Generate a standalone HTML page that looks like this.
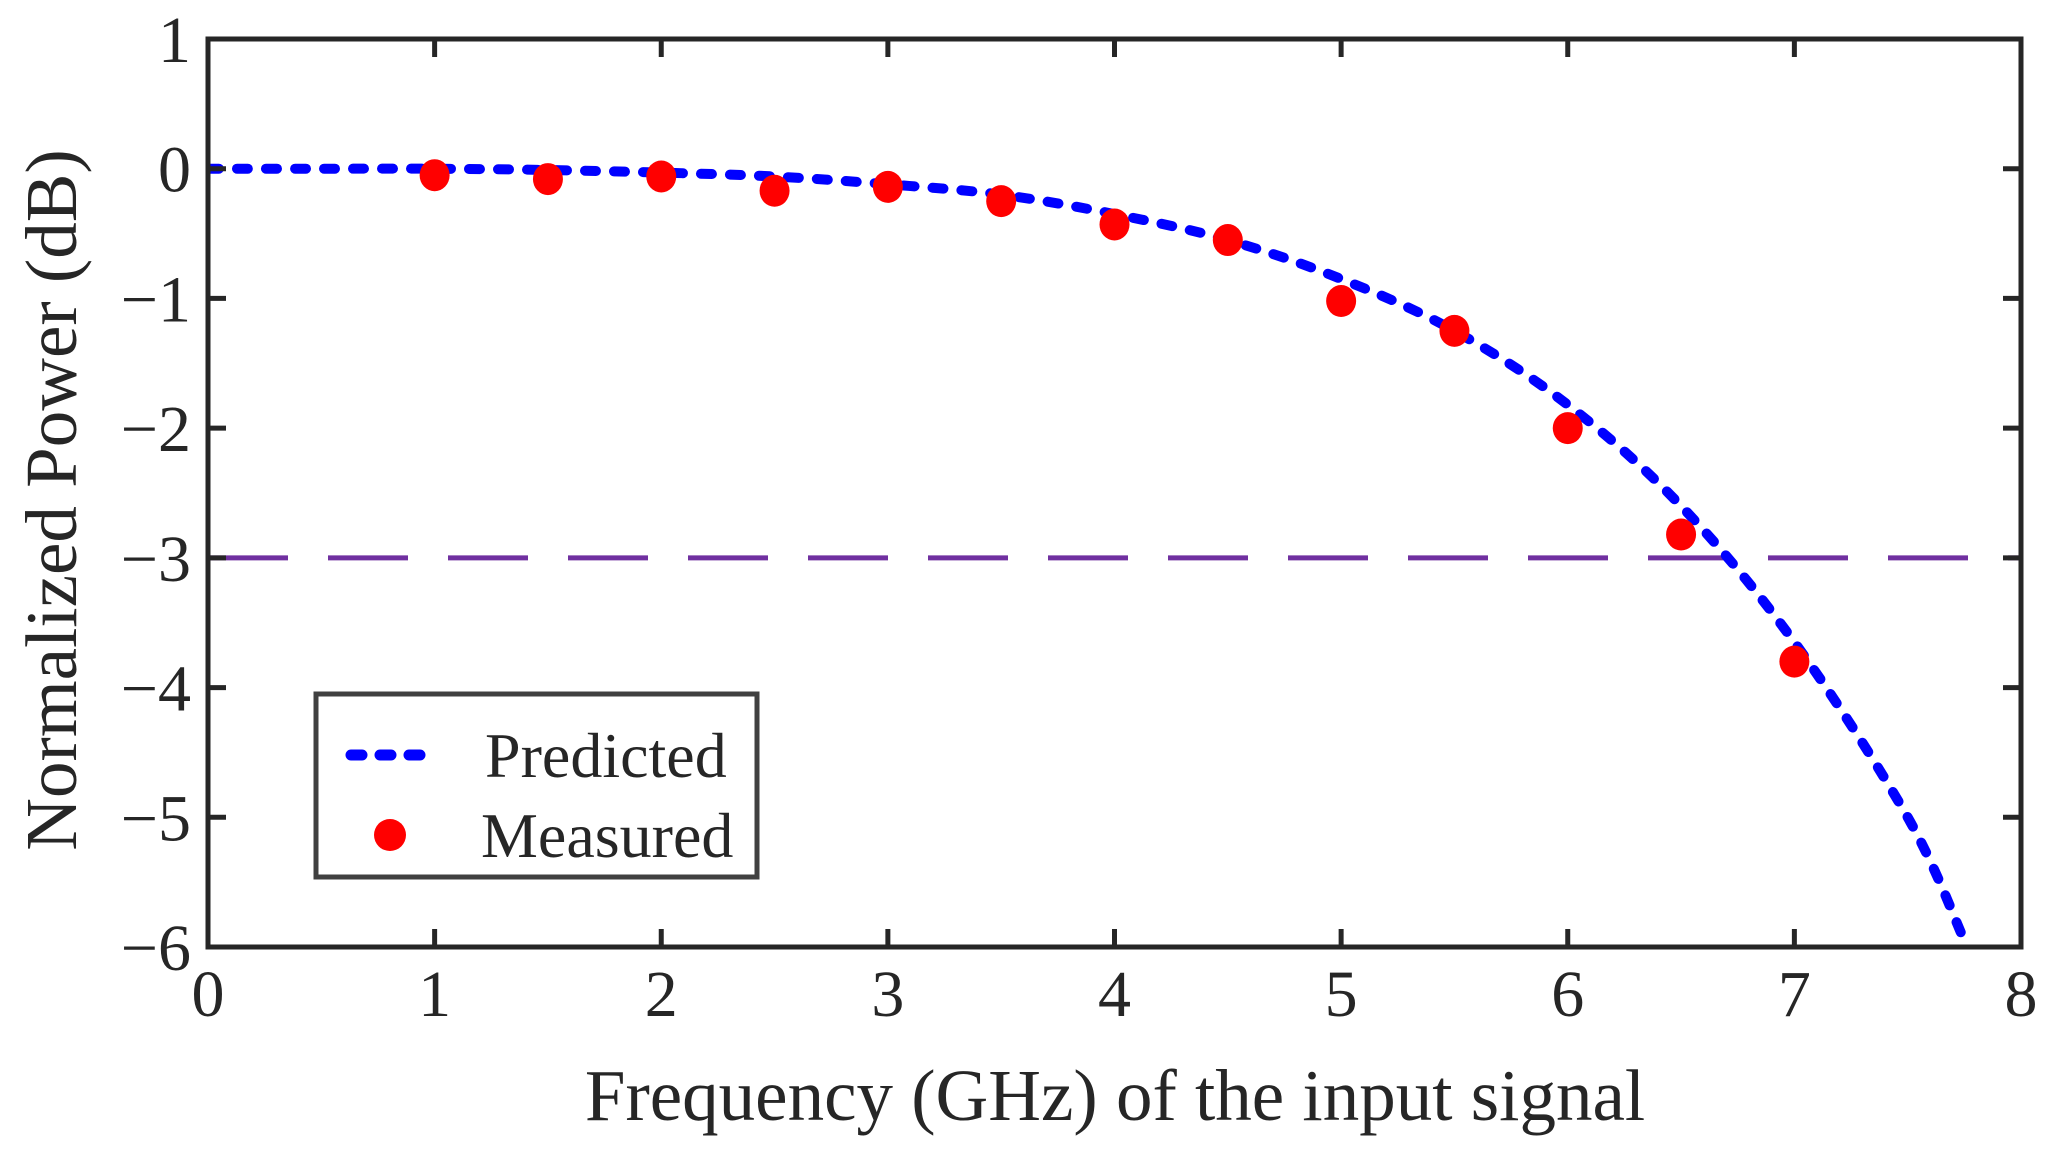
<!DOCTYPE html>
<html><head><meta charset="utf-8"><style>
html,body{margin:0;padding:0;background:#fff}
svg{display:block}
text{font-family:"Liberation Serif",serif;fill:#262626}
</style></head><body>
<svg id="chart" width="2055" height="1150" viewBox="0 0 2055 1150" xmlns="http://www.w3.org/2000/svg">
<g id="plot"></g>
</svg>
<script>
const xTicks=[0,1,2,3,4,5,6,7,8];
const yTicks=[1,0,-1,-2,-3,-4,-5,-6];
const predX=[0,0.5,1,1.5,2,2.5,3,3.5,4,4.5,5,5.5,6,6.5,7,7.5,7.75];
const predY=[0,0,0,-0.01,-0.03,-0.06,-0.12,-0.2,-0.35,-0.55,-0.85,-1.25,-1.82,-2.6,-3.65,-5.0,-5.95];
const measX=[1,1.5,2,2.5,3,3.5,4,4.5,5,5.5,6,6.5,7];
const measY=[-0.05,-0.08,-0.06,-0.17,-0.14,-0.25,-0.43,-0.55,-1.02,-1.25,-2.0,-2.82,-3.8];
const refLevel=[-3];

const L=208,R=2021,T=39,B=947;
const xMin=0,xMax=8,yMin=-6,yMax=1;
const sx=v=>L+(v-xMin)/(xMax-xMin)*(R-L);
const sy=v=>T+(yMax-v)/(yMax-yMin)*(B-T);
const NS="http://www.w3.org/2000/svg";
const g=document.getElementById('plot');
function mk(tag,attrs,parent){const e=document.createElementNS(NS,tag);for(const k in attrs)e.setAttribute(k,attrs[k]);(parent||g).appendChild(e);return e;}

const defs=mk('defs',{});
const cp=mk('clipPath',{id:'clip'},defs);
mk('rect',{x:L,y:T,width:R-L,height:B-T},cp);

const ref=mk('line',{x1:L,x2:R,y1:sy(refLevel[0]),y2:sy(refLevel[0]),stroke:'#7030A0','stroke-width':5,'stroke-dasharray':'80 40'});



const pts=predX.map((x,i)=>[sx(x),sy(predY[i])]);
let d='M'+pts[0][0]+','+pts[0][1];
for(let i=0;i<pts.length-1;i++){
 const p0=pts[Math.max(0,i-1)],p1=pts[i],p2=pts[i+1],p3=pts[Math.min(pts.length-1,i+2)];
 const c1=[p1[0]+(p2[0]-p0[0])/6,p1[1]+(p2[1]-p0[1])/6];
 const c2=[p2[0]-(p3[0]-p1[0])/6,p2[1]-(p3[1]-p1[1])/6];
 d+=` C${c1[0]},${c1[1]} ${c2[0]},${c2[1]} ${p2[0]},${p2[1]}`;
}
const pl=mk('path',{d:d,fill:'none',stroke:'#0000ff','stroke-width':10,'stroke-linecap':'round','stroke-dasharray':'11 18','clip-path':'url(#clip)'});



measX.forEach((x,i)=>{
 const c=mk('ellipse',{cx:sx(x),cy:sy(measY[i]),rx:15,ry:16,fill:'#ff0000'});
 
 
});

const box=mk('rect',{x:L,y:T,width:R-L,height:B-T,fill:'none',stroke:'#262626','stroke-width':5});



xTicks.forEach(v=>{
 const x=sx(v);
 const t1=mk('line',{x1:x,x2:x,y1:B,y2:B-18,stroke:'#262626','stroke-width':5});
 
 
 const t2=mk('line',{x1:x,x2:x,y1:T,y2:T+18,stroke:'#262626','stroke-width':5});
 
 
 const tx=mk('text',{x:x,y:1016,'text-anchor':'middle','font-size':66});
 tx.textContent=String(v);
 
 
});
yTicks.forEach(v=>{
 const y=sy(v);
 const t1=mk('line',{x1:L,x2:L+18,y1:y,y2:y,stroke:'#262626','stroke-width':5});
 
 
 const t2=mk('line',{x1:R,x2:R-18,y1:y,y2:y,stroke:'#262626','stroke-width':5});
 
 
 const tx=mk('text',{x:191,y:y+23,'text-anchor':'end','font-size':66});
 tx.textContent=v<0?'\u2212'+Math.abs(v):String(v);
 
 
});

const xt=mk('text',{x:1115,y:1120,'text-anchor':'middle','font-size':73});
xt.textContent='Frequency (GHz) of the input signal';


const yt=mk('text',{x:0,y:0,'text-anchor':'middle','font-size':73,transform:'translate(76,500) rotate(-90)'});
yt.textContent='Normalized Power (dB)';



const lg=mk('g',{});


mk('rect',{x:316,y:694,width:441,height:183,fill:'#fff',stroke:'#404040','stroke-width':5},lg);
const ls=mk('line',{x1:351,x2:420,y1:755,y2:755,stroke:'#0000ff','stroke-width':11,'stroke-linecap':'round','stroke-dasharray':'11 18'},lg);


const lt1=mk('text',{x:485,y:777,'font-size':64},lg);
lt1.textContent='Predicted';


const lm=mk('circle',{cx:390,cy:835,r:16,fill:'#ff0000'},lg);


const lt2=mk('text',{x:481,y:857,'font-size':64},lg);
lt2.textContent='Measured';


</script>
</body></html>
